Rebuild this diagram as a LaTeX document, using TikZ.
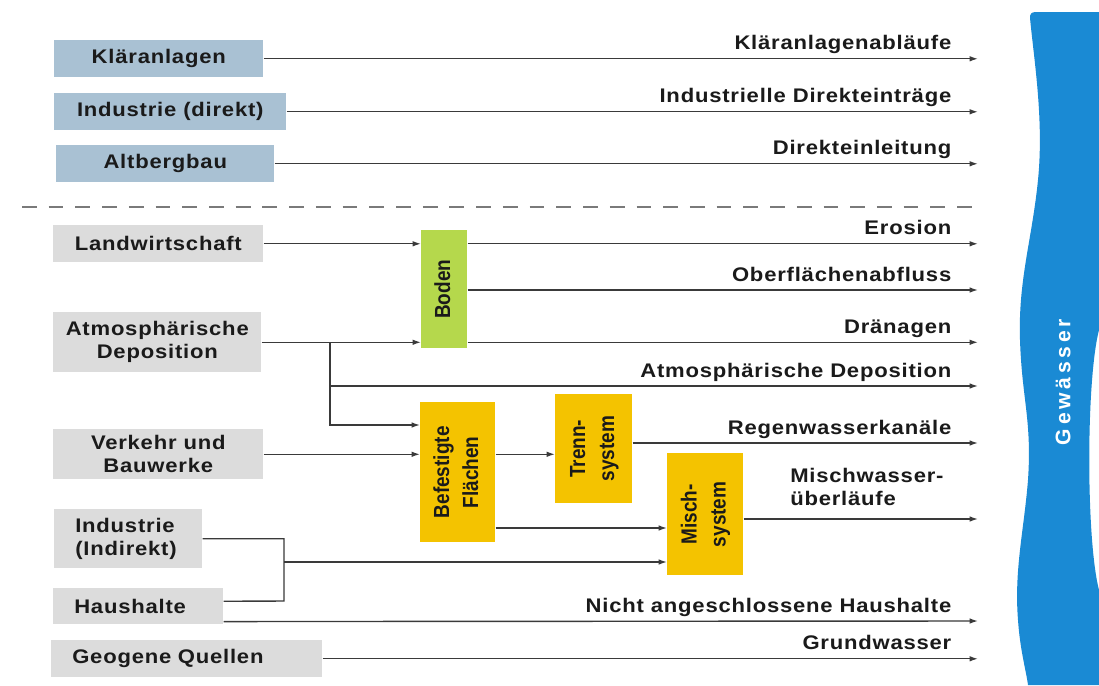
\documentclass[tikz,border=0pt]{standalone}
\usepackage{fontspec}
\setmainfont{Liberation Sans}
\newfontfamily\boxfont{Liberation Sans}[FakeStretch=1.12, LetterSpace=4]
\newfontfamily\bandfont{Liberation Sans}[LetterSpace=18]
\usetikzlibrary{arrows.meta}
\definecolor{vdarkgray}{HTML}{1a1a1a}
\definecolor{vline}{HTML}{3a3a3a}
\definecolor{vdash}{HTML}{7a7a7a}
\definecolor{vsteel}{HTML}{a9c1d3}
\definecolor{vlightgray}{HTML}{dcdcdc}
\definecolor{vgreen}{HTML}{b5d84c}
\definecolor{vyellow}{HTML}{f4c300}
\definecolor{vblue}{HTML}{1a8ad4}
\def\pu{0.025cm}
\newcommand\vlab[1]{\rotatebox{90}{\scalebox{1}[1.15]{\begin{tabular}{@{}c@{}}#1\end{tabular}}}}

\begin{document}
\begin{tikzpicture}[x=\pu, y=-\pu,
		txt/.style={font=\boxfont\bfseries\fontsize{14}{16.5}\selectfont, text=vdarkgray},
		wh/.style 2 args={minimum width=#1*\pu, minimum height=#2*\pu},
		srcbox/.style={txt, anchor=north west, inner sep=0pt, align=center},
		topbox/.style={srcbox, fill=vsteel},
		lowbox/.style={srcbox, fill=vlightgray},
		lefttxt/.style={align=left, inner xsep=21*\pu, text width=#1*\pu},
		stage/.style={anchor=north west, inner sep=0pt, text=vdarkgray, font=\bfseries\fontsize{13.5}{18}\selectfont},
		line/.style={color=vline, line width=1pt},
		flow/.style={line, -{Latex[length=6pt, width=4pt]}},
		outlab/.style={txt, anchor=base east, inner sep=0pt, xshift=-26*\pu, yshift=9*\pu},
		sep/.style={color=vdash, line width=1.8pt, dash pattern=on 10.5pt off 8.5pt},
		bandlab/.style={font=\bandfont\bfseries\fontsize{15}{17}\selectfont, text=white}]
		\useasboundingbox (0,0) rectangle (1099,685);
		\fill[white] (0,0) rectangle (1099,685);
		\coordinate (rim) at (978,0);

		\fill[vblue] (1099,12) -- (1036,12) .. controls (1031,12) and (1030,14) .. (1030,18)
			.. controls (1034,60) and (1044,120) .. (1038,180)
			.. controls (1032,240) and (1018,280) .. (1020,340)
			.. controls (1022,400) and (1032,420) .. (1028,480)
			.. controls (1024,530) and (1014,570) .. (1018,620)
			.. controls (1020,650) and (1026,670) .. (1028,685)
			-- (1099,685) -- (1099,590)
			.. controls (1086,540) and (1086,380) .. (1099,330) -- cycle;
		\node[bandlab, rotate=90] (gew) at (1063,382) {Gewässer};

		\node[topbox, wh={209}{37}] (kla) at (54,40) {Kläranlagen};
		\node[topbox, wh={232}{37}] (ind) at (54,93) {Industrie (direkt)};
		\node[topbox, wh={218}{37}] (alt) at (56,145) {Altbergbau};
		\draw[flow] (kla.east) -- (kla.east -| rim) node[outlab] {Kläranlagenabläufe};
		\draw[flow] (ind.east) -- (ind.east -| rim) node[outlab] {Industrielle Direkteinträge};
		\draw[flow] (alt.east) -- (alt.east -| rim) node[outlab] {Direkteinleitung};

		\draw[sep] (22,207) -- (rim |- 0,207);

		\node[lowbox, wh={210}{37}] (lw) at (53,225) {Landwirtschaft};
		\node[lowbox, wh={208}{60}] (atm) at (53,312) {Atmosphärische\\Deposition};
		\node[lowbox, wh={210}{50}] (vk) at (53,429) {Verkehr und\\Bauwerke};
		\node[lowbox, lefttxt=106, wh={148}{59}] (iid) at (54,509) {Industrie\\(Indirekt)};
		\node[lowbox, lefttxt=128, wh={170}{36}] (hh) at (53,588) {Haushalte};
		\node[lowbox, lefttxt=229, wh={271}{37}] (geo) at (51,640) {Geogene Quellen};

		\node[stage, fill=vgreen, wh={46}{118}] (boden) at (421,230) {\vlab{Boden}};
		\node[stage, fill=vyellow, wh={75}{140}] (bef) at (420,402) {\vlab{Befestigte\\Flächen}};
		\node[stage, fill=vyellow, wh={77}{109}] (trenn) at (555,394) {\vlab{Trenn-\\system}};
		\node[stage, fill=vyellow, wh={76}{122}] (misch) at (667,453) {\vlab{Misch-\\system}};

		\coordinate (split) at (atm.east -| 330,0);
		\coordinate (jn) at (284,562);

		\draw[flow] (lw.east) -- (lw.east -| boden.west);
		\draw[flow] (atm.east) -- (atm.east -| boden.west);
		\draw[flow] (boden.east |- lw.east) -- (rim |- lw.east) node[outlab] {Erosion};
		\draw[flow] (boden.east |- 0,290) -- (rim |- 0,290) node[outlab] {Oberflächenabfluss};
		\draw[flow] (boden.east |- atm.east) -- (rim |- atm.east) node[outlab] {Dränagen};
		\draw[flow] (split) |- (rim |- 0,386) node[outlab] {Atmosphärische Deposition};
		\draw[flow] (split) |- (bef.west |- 0,425);

		\draw[flow] (vk.east) -- (vk.east -| bef.west);
		\draw[flow] (bef.east |- vk.east) -- (trenn.west |- vk.east);
		\draw[flow] (trenn.east |- 0,443) -- (rim |- 0,443) node[outlab] {Regenwasserkanäle};
		\draw[flow] (bef.east |- 0,528) -- (misch.west |- 0,528);
		\draw[flow] (misch.east |- 0,519) -- (rim |- 0,519);
		\node[txt, anchor=south west, align=left, inner sep=0pt] (mwl) at (790,506) {Mischwasser-\\überläufe};

		\draw[line] (iid.east) -| (jn |- 0,601) -- ([yshift=5*\pu]hh.east);
		\draw[flow] (jn) -- (jn -| misch.west);
		\draw[flow] ([yshift=3*\pu]hh.south east) -- (rim |- 0,621) node[outlab] {Nicht angeschlossene Haushalte};
		\draw[flow] (geo.east) -- (geo.east -| rim) node[outlab] {Grundwasser};
	\end{tikzpicture}
\end{document}
